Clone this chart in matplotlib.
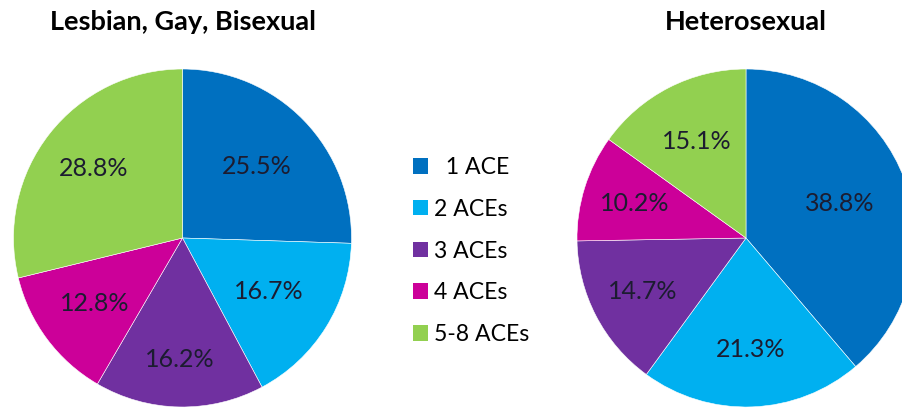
import numpy as np
import matplotlib
matplotlib.use("Agg")
import matplotlib.pyplot as plt
from matplotlib.patches import Patch

categories = ["  1 ACE", "2 ACEs", "3 ACEs", "4 ACEs", "5-8 ACEs"]
lgb_values = [25.5, 16.7, 16.2, 12.8, 28.8]
het_values = [38.8, 21.3, 14.7, 10.2, 15.1]
titles = ["Lesbian, Gay, Bisexual", "Heterosexual"]

colors = ["#0070C0", "#00B0F0", "#7030A0", "#CC0099", "#92D050"]
# label radius (fraction of pie radius) per slice, roughly where Excel put them
lgb_label_r = [0.61, 0.60, 0.72, 0.65, 0.67]
het_label_r = [0.59, 0.66, 0.69, 0.69, 0.64]

plt.rcParams["font.family"] = ["Lato", "DejaVu Sans"]

W, H = 902, 409
fig = plt.figure(figsize=(W / 100, H / 100), dpi=100)


def draw_pie(cx, cy, r, values, label_r, title):
    ax = fig.add_axes([(cx - r) / W, (H - cy - r) / H, 2 * r / W, 2 * r / H])
    wedges, _ = ax.pie(values, colors=colors, startangle=90, counterclock=False,
                       wedgeprops=dict(edgecolor="white", linewidth=0.4))
    for w in wedges:
        w.set_clip_on(False)
    ax.set_xlim(-1, 1)
    ax.set_ylim(-1, 1)
    ax.set_aspect("equal")
    ax.axis("off")
    for w, v, lr in zip(wedges, values, label_r):
        mid = np.deg2rad((w.theta1 + w.theta2) / 2)
        ax.text(lr * np.cos(mid), lr * np.sin(mid), f"{v:.1f}%",
                ha="center", va="center", fontsize=18, color="#1c1c30")
    fig.text(cx / W, 1 - 22 / H, title, ha="center", va="center",
             fontsize=19.5, fontweight="bold", color="black")


draw_pie(182.5, 238, 169, lgb_values, lgb_label_r, titles[0])
draw_pie(746, 238, 169, het_values, het_label_r, titles[1])

handles = [Patch(facecolor=c, edgecolor="none") for c in colors]
fig.legend(handles, categories, loc="center left", bbox_to_anchor=(413 / W, 1 - 251 / H),
           frameon=False, fontsize=16.6, handlelength=0.65, handleheight=0.65,
           handletextpad=0.25, labelspacing=0.9, borderpad=0, borderaxespad=0)

fig.savefig("out.png", dpi=100)
